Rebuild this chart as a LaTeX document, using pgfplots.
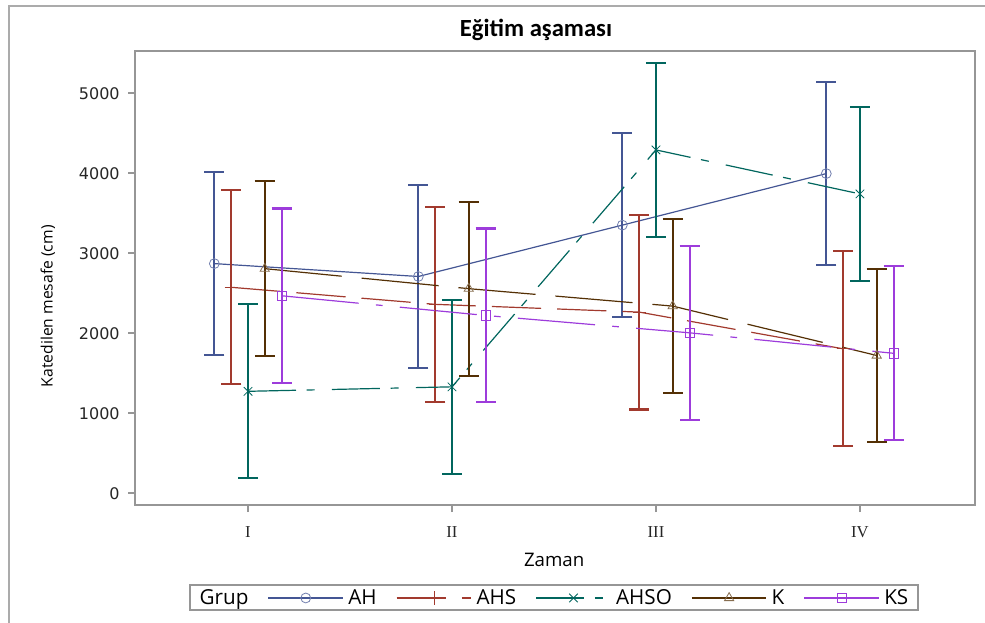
\documentclass[border=0pt]{standalone}
\usepackage{fontspec}
\setmainfont{Open Sans}
\newfontfamily\dejavu{DejaVu Sans}
\newfontfamily\carlito{Carlito}
\newfontfamily\libserif{Liberation Serif}
\usepackage{pgfplots}
\pgfplotsset{compat=1.18}
\definecolor{cAH}{HTML}{445694}
\definecolor{cAHS}{HTML}{A23A2E}
\definecolor{cAHSO}{HTML}{01665E}
\definecolor{cK}{HTML}{543005}
\definecolor{cKS}{HTML}{9D3CDB}
\definecolor{framegray}{RGB}{150,150,150}
\begin{document}
\begin{tikzpicture}
\path[use as bounding box] (0,0) rectangle (738.75pt,467.25pt);
% outer frame (left and top)
\draw[color=framegray!80, line width=1.5pt] (6.75pt,0pt) -- (6.75pt,463pt) -- (738.75pt,463pt);
\node[font=\carlito\bfseries\fontsize{18.5}{18.5}\selectfont] at (402pt,444.75pt) {Eğitim aşaması};
\begin{axis}[
  at={(101.25pt,88.125pt)}, anchor=south west,
  width=630pt, height=340.5pt, scale only axis,
  xmin=0.446, xmax=4.564, ymin=-152, ymax=5522,
  axis line style={framegray, line width=1.5pt},
  tick style={framegray, line width=1.5pt},
  tick align=outside, major tick length=5pt,
  xtick pos=bottom, ytick pos=left,
  xtick={1,2,3,4}, xticklabels={I,II,III,IV},
  ytick={0,1000,2000,3000,4000,5000},
  /pgf/number format/assume math mode=true,
  /pgf/number format/1000 sep={},
  xticklabel style={font=\libserif\fontsize{12.5}{12.5}\selectfont, text=black!85, yshift=-7pt},
  yticklabel style={font=\dejavu\fontsize{12}{12}\selectfont, text=black!85, xshift=-3pt},
  xlabel={Zaman}, ylabel={Katedilen mesafe (cm)},
  xlabel style={font=\fontsize{14}{14}\selectfont, at={(rel axis cs:0.499,-0.12)}, anchor=center},
  ylabel style={font=\fontsize{11.75}{11.75}\selectfont, at={(rel axis cs:-0.1036,0.439)}, anchor=center},
  clip=false,
  legend columns=6,
  legend style={at={(0.4988,-0.2037)}, anchor=center, draw=framegray, line width=1.5pt,
    font=\fontsize{15.5}{15.5}\selectfont, inner xsep=4pt, inner ysep=1pt,
    nodes={inner xsep=3.5pt, inner ysep=2pt},
    /tikz/every even column/.append style={column sep=11pt},
    /tikz/column 2/.append style={column sep=25pt}},
  legend image code/.code={%
    \draw[#1, mark repeat=2, mark phase=2] plot coordinates {(0pt,0pt) (28pt,0pt) (56pt,0pt)};},
  error bars/y dir=both, error bars/y explicit,
  error bars/error mark options={rotate=90, mark size=7.5pt, line width=1.6pt},
]
\addlegendimage{empty legend}
\addlegendentry{Grup}

\addplot[cAH, line width=0.9pt, mark=o, mark size=3.7pt,
  mark options={solid, line width=0.6pt, draw=cAH!75!white},
  error bars/error bar style={line width=1.6pt, solid}]
  coordinates {(0.835,2871) +- (0,1146) (1.835,2710) +- (0,1148) (2.835,3352) +- (0,1146) (3.835,3996) +- (0,1146)};
\addlegendentry{AH}

\addplot[cAHS, line width=0.9pt, dash pattern=on 37pt off 12pt, mark=+, mark size=5pt,
  mark options={solid, line width=0.6pt},
  error bars/error bar style={line width=1.6pt, solid}]
  coordinates {(0.918,2575) +- (0,1213) (1.918,2362) +- (0,1217) (2.918,2265) +- (0,1218) (3.918,1806) +- (0,1218)};
\addlegendentry{AHS}

\addplot[cAHSO, line width=0.9pt, dash pattern=on 36pt off 8pt on 6pt off 13pt, mark=x, mark size=4.5pt,
  mark options={solid, line width=0.6pt},
  error bars/error bar style={line width=1.6pt, solid}]
  coordinates {(1,1275) +- (0,1088) (2,1331) +- (0,1089) (3,4292) +- (0,1088) (4,3742) +- (0,1088)};
\addlegendentry{AHSO}

\addplot[cK, line width=0.9pt, dash pattern=on 58pt off 15pt, mark=triangle, mark size=4pt,
  mark options={solid, line width=0.6pt, draw=cK!70!white},
  error bars/error bar style={line width=1.6pt, solid}]
  coordinates {(1.082,2808) +- (0,1092) (2.082,2558) +- (0,1088) (3.082,2340) +- (0,1086) (4.082,1723) +- (0,1085)};
\addlegendentry{K}

\addplot[cKS, line width=0.9pt, dash pattern=on 58pt off 13pt on 5pt off 13pt, mark=square, mark size=3.5pt,
  mark options={solid, line width=0.6pt},
  error bars/error bar style={line width=1.6pt, solid}]
  coordinates {(1.165,2469) +- (0,1090) (2.165,2223) +- (0,1086) (3.165,2006) +- (0,1086) (4.165,1750) +- (0,1088)};
\addlegendentry{KS}
\end{axis}
\end{tikzpicture}
\end{document}
